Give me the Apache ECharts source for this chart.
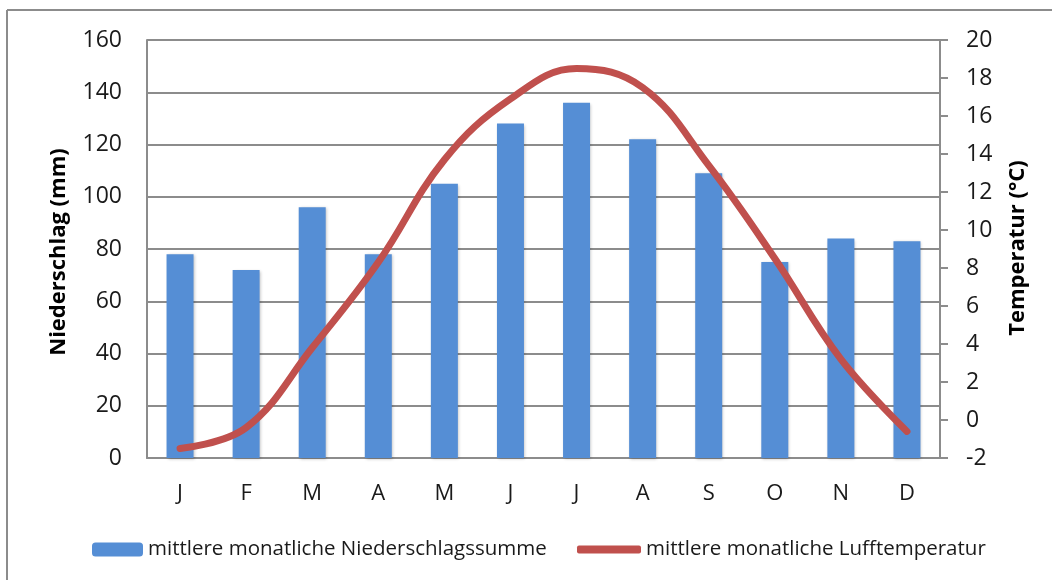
<!DOCTYPE html>
<html>
<head>
<meta charset="utf-8">
<script src="https://cdn.jsdelivr.net/npm/echarts@6/dist/echarts.min.js"></script>
<style>html,body{margin:0;padding:0;background:#fff;}#c{width:1052px;height:580px;}</style>
</head>
<body>
<div id="c"></div>
<script>
const months = ['J','F','M','A','M','J','J','A','S','O','N','D'];
const precipitation = [78, 72, 96, 78, 105, 128, 136, 122, 109, 75, 84, 83];
const temperature = [-1.5, -0.4, 3.8, 8.3, 13.7, 16.9, 18.5, 17.5, 13.4, 8.5, 3.2, -0.6];
const precipTicks = {min: 0, max: 160, interval: 20};
const tempTicks = {min: -2, max: 20, interval: 2};
const precipName = 'mittlere monatliche Niederschlagssumme';
const tempName = 'mittlere monatliche Lufftemperatur';

const FONT = 'Open Sans';
const grey = '#8c8c8c';
const chart = echarts.init(document.getElementById('c'));
chart.setOption({
  animation: false,
  textStyle: {fontFamily: FONT},
  grid: {left: 147, right: 112, top: 40, bottom: 122},
  legend: [
    {data: [precipName], left: 87, top: 534, itemWidth: 51, itemHeight: 14, itemGap: 0,
     textStyle: {fontSize: 20.5, color: '#1a1a1a', fontFamily: FONT}},
    {data: [{name: tempName, icon: 'roundRect'}], left: 572, top: 534, itemWidth: 64, itemHeight: 8, itemGap: 0,
     textStyle: {fontSize: 20.5, color: '#1a1a1a', fontFamily: FONT}}
  ],
  xAxis: {
    type: 'category', data: months,
    axisLine: {show: true, lineStyle: {color: grey, width: 2}},
    axisTick: {show: false},
    axisLabel: {fontSize: 22, color: '#1a1a1a', margin: 25}
  },
  yAxis: [
    {type: 'value', min: precipTicks.min, max: precipTicks.max, interval: precipTicks.interval,
     axisLine: {show: true, lineStyle: {color: grey, width: 2}},
     axisTick: {show: false},
     splitLine: {show: true, lineStyle: {color: grey, width: 2}},
     axisLabel: {fontSize: 23, color: '#1a1a1a', margin: 25}},
    {type: 'value', min: tempTicks.min, max: tempTicks.max, interval: tempTicks.interval,
     axisLine: {show: true, lineStyle: {color: grey, width: 2}},
     axisTick: {show: true, length: 8, lineStyle: {color: grey, width: 2}},
     splitLine: {show: false},
     axisLabel: {fontSize: 23, color: '#1a1a1a', margin: 26}}
  ],
  series: [
    {name: precipName, type: 'bar', data: precipitation, barWidth: 27,
     itemStyle: {color: '#558ED5', shadowColor: 'rgba(0,0,0,0.25)', shadowBlur: 3, shadowOffsetX: 1, shadowOffsetY: 1}},
    {name: tempName, type: 'line', yAxisIndex: 1, data: temperature, smooth: 0.4,
     showSymbol: false, symbol: 'none',
     lineStyle: {color: '#C0504D', width: 7, cap: 'round', join: 'round'},
     itemStyle: {color: '#C0504D'}}
  ],
  graphic: [
    {type: 'line', shape: {x1: 7, y1: 10, x2: 1052, y2: 10}, style: {stroke: grey, lineWidth: 2}},
    {type: 'line', shape: {x1: 7, y1: 10, x2: 7, y2: 580}, style: {stroke: grey, lineWidth: 2}},
    {type: 'text', x: 59, y: 252, rotation: Math.PI / 2,
     style: {text: 'Niederschlag (mm)', font: 'bold 22px "Open Sans"', fill: '#000', textAlign: 'center', textVerticalAlign: 'middle'}},
    {type: 'text', x: 1018, y: 248, rotation: Math.PI / 2,
     style: {text: 'Temperatur (°C)', font: 'bold 22px "Open Sans"', fill: '#000', textAlign: 'center', textVerticalAlign: 'middle'}}
  ]
});
</script>
</body>
</html>
